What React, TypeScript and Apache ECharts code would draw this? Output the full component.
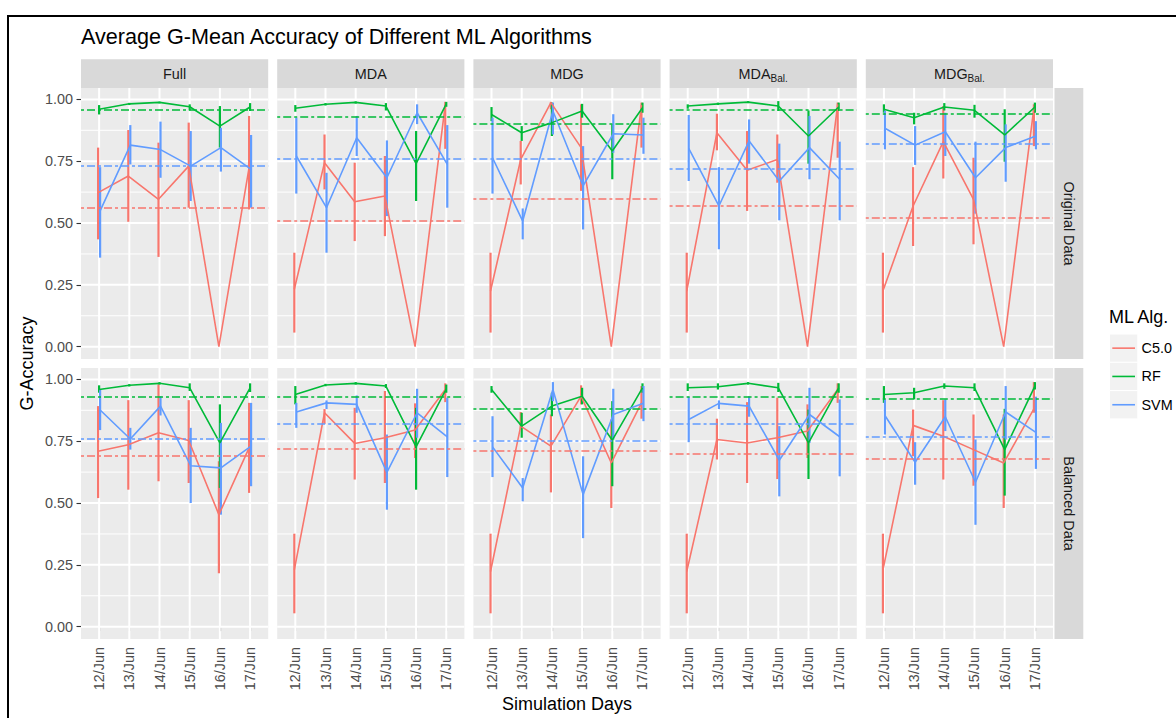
import React, { useEffect, useRef } from "react";
import * as echarts from "echarts";

// ---------- categories ----------
const DAYS = ["12/Jun", "13/Jun", "14/Jun", "15/Jun", "16/Jun", "17/Jun"];
const METHOD_NAMES = ["Full", "MDA", "MDG", "MDA", "MDG"];
const METHOD_SUBS = ["", "", "", "Bal.", "Bal."];
const DATA_SETS = ["Original Data", "Balanced Data"];
const ALGORITHMS = ["C5.0", "RF", "SVM"];

// ---------- Original data (rows: Full, MDA, MDG, MDA_Bal., MDG_Bal.; cols: days) ----------
const ORIG_C50 = [
  [0.623, 0.69, 0.596, 0.73, 0.0, 0.724],
  [0.232, 0.744, 0.586, 0.609, 0.0, 0.98],
  [0.225, 0.757, 0.987, 0.805, 0.0, 0.977],
  [0.225, 0.865, 0.713, 0.757, 0.0, 0.98],
  [0.225, 0.569, 0.829, 0.596, 0.0, 0.966],
];
const ORIG_C50_LO = [
  [0.434, 0.505, 0.363, 0.562, 0.0, 0.555],
  [0.057, 0.636, 0.427, 0.447, 0.0, 0.8],
  [0.057, 0.656, 0.96, 0.63, 0.0, 0.805],
  [0.057, 0.794, 0.549, 0.663, 0.0, 0.764],
  [0.057, 0.407, 0.68, 0.414, 0.0, 0.811],
];
const ORIG_C50_HI = [
  [0.805, 0.876, 0.825, 0.906, 0.0, 0.933],
  [0.38, 0.858, 0.744, 0.771, 0.0, 0.99],
  [0.38, 0.832, 0.99, 0.98, 0.0, 0.987],
  [0.38, 0.942, 0.872, 0.858, 0.0, 0.987],
  [0.38, 0.726, 0.973, 0.764, 0.0, 0.98],
];
const ORIG_RF = [
  [0.96, 0.982, 0.988, 0.97, 0.892, 0.969],
  [0.964, 0.98, 0.988, 0.973, 0.74, 0.982],
  [0.939, 0.865, 0.906, 0.953, 0.791, 0.966],
  [0.973, 0.982, 0.989, 0.973, 0.852, 0.969],
  [0.96, 0.926, 0.969, 0.956, 0.856, 0.969],
];
const ORIG_RF_LO = [
  [0.939, 0.977, 0.984, 0.955, 0.805, 0.953],
  [0.95, 0.975, 0.983, 0.955, 0.589, 0.97],
  [0.912, 0.832, 0.852, 0.926, 0.677, 0.946],
  [0.962, 0.977, 0.985, 0.953, 0.74, 0.953],
  [0.946, 0.899, 0.955, 0.926, 0.748, 0.946],
];
const ORIG_RF_HI = [
  [0.977, 0.986, 0.991, 0.98, 0.973, 0.985],
  [0.977, 0.985, 0.992, 0.985, 0.872, 0.99],
  [0.969, 0.892, 0.987, 0.982, 0.899, 0.987],
  [0.98, 0.987, 0.993, 0.993, 0.955, 0.987],
  [0.98, 0.946, 0.985, 0.978, 0.96, 0.987],
];
const ORIG_SVM = [
  [0.549, 0.815, 0.797, 0.73, 0.805, 0.717],
  [0.771, 0.562, 0.845, 0.683, 0.946, 0.737],
  [0.764, 0.508, 0.953, 0.65, 0.861, 0.856],
  [0.802, 0.569, 0.832, 0.67, 0.805, 0.677],
  [0.883, 0.815, 0.869, 0.683, 0.805, 0.852],
];
const ORIG_SVM_LO = [
  [0.36, 0.737, 0.683, 0.589, 0.708, 0.562],
  [0.619, 0.38, 0.771, 0.528, 0.9, 0.562],
  [0.619, 0.434, 0.858, 0.474, 0.784, 0.78],
  [0.67, 0.394, 0.74, 0.511, 0.677, 0.511],
  [0.798, 0.735, 0.771, 0.538, 0.667, 0.798],
];
const ORIG_SVM_HI = [
  [0.726, 0.896, 0.91, 0.872, 0.885, 0.856],
  [0.926, 0.703, 0.933, 0.834, 0.98, 0.896],
  [0.926, 0.559, 0.987, 0.811, 0.94, 0.926],
  [0.937, 0.726, 0.919, 0.821, 0.933, 0.829],
  [0.955, 0.892, 0.946, 0.829, 0.899, 0.912],
];
const ORIG_AVG_C50 = [0.565, 0.505, 0.6, 0.573, 0.515];
const ORIG_AVG_RF = [0.96, 0.933, 0.902, 0.957, 0.939];
const ORIG_AVG_SVM = [0.735, 0.757, 0.764, 0.724, 0.818];

// ---------- Balanced data ----------
const BAL_C50 = [
  [0.709, 0.736, 0.784, 0.753, 0.453, 0.723],
  [0.23, 0.865, 0.741, 0.764, 0.795, 0.959],
  [0.223, 0.811, 0.73, 0.932, 0.662, 0.905],
  [0.223, 0.757, 0.743, 0.764, 0.791, 0.959],
  [0.23, 0.814, 0.77, 0.716, 0.662, 0.881],
];
const BAL_C50_LO = [
  [0.52, 0.554, 0.588, 0.581, 0.216, 0.541],
  [0.054, 0.82, 0.595, 0.581, 0.682, 0.908],
  [0.054, 0.797, 0.543, 0.899, 0.48, 0.841],
  [0.054, 0.676, 0.581, 0.597, 0.682, 0.905],
  [0.054, 0.689, 0.595, 0.57, 0.48, 0.865],
];
const BAL_C50_HI = [
  [0.892, 0.916, 0.98, 0.916, 0.669, 0.905],
  [0.376, 0.88, 0.885, 0.953, 0.903, 0.984],
  [0.376, 0.868, 0.858, 0.976, 0.838, 0.973],
  [0.376, 0.841, 0.908, 0.926, 0.899, 0.984],
  [0.376, 0.878, 0.916, 0.858, 0.858, 0.989],
];
const BAL_RF = [
  [0.959, 0.976, 0.984, 0.966, 0.743, 0.966],
  [0.939, 0.977, 0.984, 0.973, 0.727, 0.962],
  [0.959, 0.811, 0.892, 0.932, 0.754, 0.966],
  [0.966, 0.97, 0.984, 0.966, 0.743, 0.966],
  [0.939, 0.946, 0.973, 0.966, 0.716, 0.973],
];
const BAL_RF_LO = [
  [0.946, 0.971, 0.979, 0.953, 0.561, 0.949],
  [0.899, 0.972, 0.979, 0.965, 0.554, 0.946],
  [0.946, 0.764, 0.851, 0.899, 0.568, 0.946],
  [0.953, 0.959, 0.979, 0.949, 0.597, 0.946],
  [0.905, 0.919, 0.962, 0.953, 0.53, 0.959],
];
const BAL_RF_HI = [
  [0.976, 0.981, 0.989, 0.984, 0.899, 0.984],
  [0.973, 0.982, 0.989, 0.981, 0.885, 0.979],
  [0.973, 0.865, 0.946, 0.966, 0.912, 0.984],
  [0.984, 0.984, 0.989, 0.986, 0.878, 0.984],
  [0.973, 0.966, 0.984, 0.984, 0.881, 0.989],
];
const BAL_SVM = [
  [0.876, 0.759, 0.892, 0.651, 0.642, 0.73],
  [0.868, 0.905, 0.899, 0.624, 0.865, 0.768],
  [0.727, 0.561, 0.959, 0.534, 0.858, 0.903],
  [0.838, 0.903, 0.892, 0.673, 0.858, 0.768],
  [0.854, 0.665, 0.849, 0.584, 0.868, 0.786],
];
const BAL_SVM_LO = [
  [0.795, 0.716, 0.854, 0.5, 0.453, 0.568],
  [0.804, 0.88, 0.865, 0.473, 0.764, 0.605],
  [0.605, 0.507, 0.912, 0.358, 0.757, 0.831],
  [0.746, 0.88, 0.849, 0.527, 0.743, 0.608],
  [0.777, 0.574, 0.791, 0.412, 0.757, 0.638],
];
const BAL_SVM_HI = [
  [0.959, 0.804, 0.932, 0.804, 0.824, 0.905],
  [0.905, 0.915, 0.935, 0.777, 0.962, 0.926],
  [0.851, 0.601, 0.989, 0.689, 0.962, 0.973],
  [0.93, 0.915, 0.932, 0.811, 0.966, 0.919],
  [0.919, 0.746, 0.919, 0.757, 0.973, 0.93],
];
const BAL_AVG_C50 = [0.689, 0.719, 0.714, 0.703, 0.678];
const BAL_AVG_RF = [0.932, 0.926, 0.882, 0.932, 0.916];
const BAL_AVG_SVM = [0.759, 0.822, 0.754, 0.822, 0.768];

// ---------- axis ticks ----------
const X_TICKS = [1, 2, 3, 4, 5, 6];
const Y_TICKS = [0, 0.25, 0.5, 0.75, 1];
const Y_MINOR = [0.125, 0.375, 0.625, 0.875];

// ---------- styling / layout ----------
const COLORS = ["#F8766D", "#00BA38", "#619CFF"];
const FONT = "'Liberation Sans', Arial, Helvetica, sans-serif";
const PANEL_LEFT = [81, 277.2, 473.4, 669.6, 865.8];
const PANEL_W = 187.2;
const ROW_TOP = [88, 368];
const PANEL_H = 271;
const Y_MIN = -0.0498;
const Y_MAX = 1.046;
const X_MIN = 0.4;
const X_MAX = 6.6;
const DODGE = [-0.033, 0, 0.033];

function buildOption() {
  const table = [
    {
      mean: [ORIG_C50, ORIG_RF, ORIG_SVM],
      lo: [ORIG_C50_LO, ORIG_RF_LO, ORIG_SVM_LO],
      hi: [ORIG_C50_HI, ORIG_RF_HI, ORIG_SVM_HI],
      avg: [ORIG_AVG_C50, ORIG_AVG_RF, ORIG_AVG_SVM],
    },
    {
      mean: [BAL_C50, BAL_RF, BAL_SVM],
      lo: [BAL_C50_LO, BAL_RF_LO, BAL_SVM_LO],
      hi: [BAL_C50_HI, BAL_RF_HI, BAL_SVM_HI],
      avg: [BAL_AVG_C50, BAL_AVG_RF, BAL_AVG_SVM],
    },
  ];

  const grids: any[] = [];
  const xAxes: any[] = [];
  const yAxes: any[] = [];
  const series: any[] = [];
  const graphics: any[] = [];

  for (let r = 0; r < 2; r++) {
    for (let c = 0; c < 5; c++) {
      const idx = r * 5 + c;
      grids.push({
        left: PANEL_LEFT[c],
        top: ROW_TOP[r],
        width: PANEL_W,
        height: PANEL_H,
        show: true,
        backgroundColor: "#EBEBEB",
        borderWidth: 0,
      });
      xAxes.push({
        gridIndex: idx,
        type: "value",
        min: X_MIN,
        max: X_MAX,
        axisLine: { show: false },
        splitLine: { show: false },
        axisTick: {
          show: r === 1,
          customValues: X_TICKS,
          length: 4.5,
          lineStyle: { color: "#333333", width: 1.1 },
        },
        axisLabel: {
          show: r === 1,
          customValues: X_TICKS,
          rotate: 90,
          margin: 8,
          color: "#4D4D4D",
          fontSize: 14.4,
          fontFamily: FONT,
          formatter: (v: number) => DAYS[Math.round(v) - 1] ?? "",
        },
      });
      yAxes.push({
        gridIndex: idx,
        type: "value",
        min: Y_MIN,
        max: Y_MAX,
        axisLine: { show: false },
        splitLine: { show: false },
        axisTick: {
          show: c === 0,
          customValues: Y_TICKS,
          length: 4.5,
          lineStyle: { color: "#333333", width: 1.1 },
        },
        axisLabel: {
          show: c === 0,
          customValues: Y_TICKS,
          margin: 8,
          color: "#4D4D4D",
          fontSize: 14.4,
          fontFamily: FONT,
          formatter: (v: number) => v.toFixed(2),
        },
      });

      // grid lines (drawn through the axes' own scales)
      series.push({
        type: "custom",
        xAxisIndex: idx,
        yAxisIndex: idx,
        z: 1,
        silent: true,
        data: [[1, 0]],
        renderItem: (params: any, api: any) => {
          const children: any[] = [];
          Y_MINOR.forEach((v) => {
            const a = api.coord([X_MIN, v]);
            const b = api.coord([X_MAX, v]);
            children.push({
              type: "line",
              shape: { x1: a[0], y1: a[1], x2: b[0], y2: b[1] },
              style: { stroke: "#FFFFFF", lineWidth: 1 },
            });
          });
          Y_TICKS.forEach((v) => {
            const a = api.coord([X_MIN, v]);
            const b = api.coord([X_MAX, v]);
            children.push({
              type: "line",
              shape: { x1: a[0], y1: a[1], x2: b[0], y2: b[1] },
              style: { stroke: "#FFFFFF", lineWidth: 2 },
            });
          });
          X_TICKS.forEach((v) => {
            const a = api.coord([v, Y_MIN]);
            const b = api.coord([v, Y_MAX]);
            children.push({
              type: "line",
              shape: { x1: a[0], y1: a[1], x2: b[0], y2: b[1] },
              style: { stroke: "#FFFFFF", lineWidth: 2 },
            });
          });
          return { type: "group", children };
        },
      });

      const t = table[r];
      for (let a = 0; a < 3; a++) {
        const color = COLORS[a];
        const mean = t.mean[a][c];
        const lo = t.lo[a][c];
        const hi = t.hi[a][c];
        series.push({
          type: "custom",
          name: ALGORITHMS[a],
          xAxisIndex: idx,
          yAxisIndex: idx,
          z: 2,
          silent: true,
          encode: { x: 0, y: [1, 2] },
          data: DAYS.map((_, i) => [X_TICKS[i] + DODGE[a], lo[i], hi[i]]),
          renderItem: (params: any, api: any) => {
            const p1 = api.coord([api.value(0), api.value(1)]);
            const p2 = api.coord([api.value(0), api.value(2)]);
            return {
              type: "line",
              shape: { x1: p1[0], y1: p1[1], x2: p2[0], y2: p2[1] },
              style: { stroke: color, lineWidth: 2.2 },
            };
          },
        });
        series.push({
          type: "line",
          name: ALGORITHMS[a],
          xAxisIndex: idx,
          yAxisIndex: idx,
          z: 3,
          silent: true,
          showSymbol: false,
          symbol: "none",
          data: DAYS.map((_, i) => [X_TICKS[i] + DODGE[a], mean[i]]),
          lineStyle: { color, width: 1.6 },
          itemStyle: { color },
          markLine: {
            silent: true,
            symbol: ["none", "none"],
            label: { show: false },
            lineStyle: { color, width: 1.7, type: [3, 3, 8, 3] },
            emphasis: { disabled: true },
            data: [{ yAxis: t.avg[a][c] }],
          },
        });
      }
    }
  }

  // frame
  graphics.push({
    type: "rect",
    shape: { x: 8, y: 16, width: 1300, height: 900 },
    style: { fill: "none", stroke: "#000000", lineWidth: 2 },
  });
  // title
  graphics.push({
    type: "text",
    x: 81,
    y: 36,
    style: {
      text: "Average G-Mean Accuracy of Different ML Algorithms",
      fill: "#000000",
      fontSize: 21.6,
      fontFamily: FONT,
      align: "left",
      verticalAlign: "middle",
    },
  });
  // top strips
  for (let c = 0; c < 5; c++) {
    graphics.push({
      type: "rect",
      shape: { x: PANEL_LEFT[c], y: 59.2, width: PANEL_W, height: 28.8 },
      style: { fill: "#D9D9D9" },
    });
    const cx = PANEL_LEFT[c] + PANEL_W / 2;
    if (METHOD_SUBS[c]) {
      const mainW = METHOD_NAMES[c] === "MDA" ? 32 : 33.6;
      const subW = 17.2;
      const left = cx - (mainW + subW) / 2;
      graphics.push({
        type: "text",
        x: left,
        y: 73.6,
        style: {
          text: METHOD_NAMES[c],
          fill: "#1A1A1A",
          fontSize: 14.4,
          fontFamily: FONT,
          align: "left",
          verticalAlign: "middle",
        },
      });
      graphics.push({
        type: "text",
        x: left + mainW,
        y: 78,
        style: {
          text: METHOD_SUBS[c],
          fill: "#1A1A1A",
          fontSize: 10,
          fontFamily: FONT,
          align: "left",
          verticalAlign: "middle",
        },
      });
    } else {
      graphics.push({
        type: "text",
        x: cx,
        y: 73.6,
        style: {
          text: METHOD_NAMES[c],
          fill: "#1A1A1A",
          fontSize: 14.4,
          fontFamily: FONT,
          align: "center",
          verticalAlign: "middle",
        },
      });
    }
  }
  // right strips
  for (let r = 0; r < 2; r++) {
    graphics.push({
      type: "rect",
      shape: { x: 1054.5, y: ROW_TOP[r], width: 28.8, height: PANEL_H },
      style: { fill: "#D9D9D9" },
    });
    graphics.push({
      type: "text",
      x: 1068.9,
      y: ROW_TOP[r] + PANEL_H / 2,
      rotation: -Math.PI / 2,
      style: {
        text: DATA_SETS[r],
        fill: "#1A1A1A",
        fontSize: 14.4,
        fontFamily: FONT,
        align: "center",
        verticalAlign: "middle",
      },
    });
  }
  // axis titles
  graphics.push({
    type: "text",
    x: 27,
    y: (ROW_TOP[0] + ROW_TOP[1] + PANEL_H) / 2,
    rotation: Math.PI / 2,
    style: {
      text: "G-Accuracy",
      fill: "#000000",
      fontSize: 18,
      fontFamily: FONT,
      align: "center",
      verticalAlign: "middle",
    },
  });
  graphics.push({
    type: "text",
    x: (PANEL_LEFT[0] + PANEL_LEFT[4] + PANEL_W) / 2,
    y: 704,
    style: {
      text: "Simulation Days",
      fill: "#000000",
      fontSize: 18,
      fontFamily: FONT,
      align: "center",
      verticalAlign: "middle",
    },
  });
  // legend
  graphics.push({
    type: "text",
    x: 1109,
    y: 317,
    style: {
      text: "ML Alg.",
      fill: "#000000",
      fontSize: 18,
      fontFamily: FONT,
      align: "left",
      verticalAlign: "middle",
    },
  });
  for (let a = 0; a < 3; a++) {
    const top = 334 + a * 28.3;
    graphics.push({
      type: "rect",
      shape: { x: 1109.5, y: top, width: 28.3, height: 28.3 },
      style: { fill: "#F2F2F2", stroke: "#FFFFFF", lineWidth: 1 },
    });
    graphics.push({
      type: "line",
      shape: { x1: 1112.3, y1: top + 14.15, x2: 1135, y2: top + 14.15 },
      style: { stroke: COLORS[a], lineWidth: 1.6 },
    });
    graphics.push({
      type: "text",
      x: 1141.5,
      y: top + 14.15,
      style: {
        text: ALGORITHMS[a],
        fill: "#000000",
        fontSize: 14.4,
        fontFamily: FONT,
        align: "left",
        verticalAlign: "middle",
      },
    });
  }

  return {
    animation: false,
    backgroundColor: "#FFFFFF",
    textStyle: { fontFamily: FONT },
    grid: grids,
    xAxis: xAxes,
    yAxis: yAxes,
    series,
    graphic: { elements: graphics },
  };
}

export default function App() {
  const ref = useRef<HTMLDivElement>(null);
  useEffect(() => {
    document.body.style.margin = "0";
    if (!ref.current) return;
    const chart = echarts.init(ref.current, null, { renderer: "svg" });
    chart.setOption(buildOption());
    return () => chart.dispose();
  }, []);
  return <div ref={ref} style={{ width: 1176, height: 718 }} />;
}
